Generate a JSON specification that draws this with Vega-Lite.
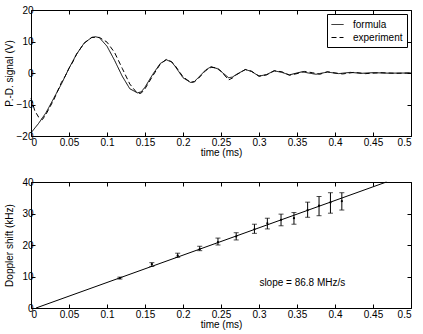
{
  "$schema": "https://vega.github.io/schema/vega-lite/v6.json",
  "padding": {"left": 3, "top": 4, "right": 0, "bottom": 0},
  "spacing": 18,
  "config": {
    "font": "Liberation Sans",
    "view": {"stroke": "black", "strokeWidth": 1},
    "axis": {
      "domain": false, "grid": false, "tickColor": "black", "tickSize": -4, "tickWidth": 1,
      "labelFont": "Liberation Sans", "labelFontSize": 10, "labelColor": "black",
      "titleFont": "Liberation Sans", "titleFontSize": 10, "titleFontWeight": "normal", "titleColor": "black"
    },
    "axisY": {"labelPadding": 2, "titlePadding": 1.5},
    "axisX": {"labelPadding": 5, "titlePadding": 0},
    "legend": {"labelFont": "Liberation Sans", "labelFontSize": 10, "labelColor": "black"}
  },
  "datasets": {
    "sig": [
      {"t":0,"v":-19,"s":"formula"},{"t":0.01,"v":-16,"s":"formula"},{"t":0.02,"v":-12.5,"s":"formula"},{"t":0.03,"v":-8,"s":"formula"},
      {"t":0.04,"v":-3.5,"s":"formula"},{"t":0.05,"v":1.5,"s":"formula"},{"t":0.06,"v":6,"s":"formula"},{"t":0.07,"v":9.5,"s":"formula"},
      {"t":0.08,"v":11.3,"s":"formula"},{"t":0.085,"v":11.5,"s":"formula"},{"t":0.09,"v":11.2,"s":"formula"},{"t":0.1,"v":8.5,"s":"formula"},
      {"t":0.11,"v":4,"s":"formula"},{"t":0.12,"v":-1,"s":"formula"},{"t":0.13,"v":-5,"s":"formula"},{"t":0.14,"v":-6.3,"s":"formula"},
      {"t":0.145,"v":-6,"s":"formula"},{"t":0.15,"v":-4.5,"s":"formula"},{"t":0.16,"v":-0.5,"s":"formula"},{"t":0.17,"v":3,"s":"formula"},
      {"t":0.178,"v":4.2,"s":"formula"},{"t":0.185,"v":3.5,"s":"formula"},{"t":0.19,"v":2,"s":"formula"},{"t":0.2,"v":-1.5,"s":"formula"},
      {"t":0.21,"v":-3,"s":"formula"},{"t":0.215,"v":-2.7,"s":"formula"},{"t":0.22,"v":-1.5,"s":"formula"},{"t":0.23,"v":1,"s":"formula"},
      {"t":0.237,"v":2,"s":"formula"},{"t":0.245,"v":1.4,"s":"formula"},{"t":0.25,"v":0.5,"s":"formula"},{"t":0.26,"v":-1.5,"s":"formula"},
      {"t":0.265,"v":-1.3,"s":"formula"},{"t":0.27,"v":-0.5,"s":"formula"},{"t":0.282,"v":1.1,"s":"formula"},{"t":0.29,"v":0.5,"s":"formula"},
      {"t":0.3,"v":-1,"s":"formula"},{"t":0.31,"v":-0.5,"s":"formula"},{"t":0.32,"v":0.7,"s":"formula"},{"t":0.33,"v":0.2,"s":"formula"},
      {"t":0.34,"v":-0.6,"s":"formula"},{"t":0.35,"v":0,"s":"formula"},{"t":0.357,"v":0.4,"s":"formula"},{"t":0.365,"v":0,"s":"formula"},
      {"t":0.375,"v":-0.4,"s":"formula"},{"t":0.39,"v":0.3,"s":"formula"},{"t":0.405,"v":-0.2,"s":"formula"},{"t":0.42,"v":0.2,"s":"formula"},
      {"t":0.435,"v":-0.1,"s":"formula"},{"t":0.45,"v":0.1,"s":"formula"},{"t":0.47,"v":-0.05,"s":"formula"},{"t":0.5,"v":0,"s":"formula"},
      {"t":0,"v":-8,"s":"experiment"},{"t":0.005,"v":-12,"s":"experiment"},{"t":0.01,"v":-14,"s":"experiment"},{"t":0.015,"v":-14.8,"s":"experiment"},
      {"t":0.02,"v":-13,"s":"experiment"},{"t":0.03,"v":-8.5,"s":"experiment"},{"t":0.04,"v":-3,"s":"experiment"},{"t":0.045,"v":-1,"s":"experiment"},
      {"t":0.05,"v":1.5,"s":"experiment"},{"t":0.055,"v":3.5,"s":"experiment"},{"t":0.06,"v":6,"s":"experiment"},{"t":0.07,"v":9.5,"s":"experiment"},
      {"t":0.08,"v":11.3,"s":"experiment"},{"t":0.09,"v":11.3,"s":"experiment"},{"t":0.1,"v":9.8,"s":"experiment"},{"t":0.11,"v":6.5,"s":"experiment"},
      {"t":0.12,"v":1.5,"s":"experiment"},{"t":0.13,"v":-3.5,"s":"experiment"},{"t":0.14,"v":-6.5,"s":"experiment"},{"t":0.145,"v":-6.4,"s":"experiment"},
      {"t":0.15,"v":-5,"s":"experiment"},{"t":0.16,"v":-1,"s":"experiment"},{"t":0.17,"v":2.8,"s":"experiment"},{"t":0.178,"v":4.3,"s":"experiment"},
      {"t":0.185,"v":3.6,"s":"experiment"},{"t":0.19,"v":2.2,"s":"experiment"},{"t":0.2,"v":-1.2,"s":"experiment"},{"t":0.21,"v":-3,"s":"experiment"},
      {"t":0.215,"v":-2.8,"s":"experiment"},{"t":0.22,"v":-1.8,"s":"experiment"},{"t":0.23,"v":0.8,"s":"experiment"},{"t":0.237,"v":1.8,"s":"experiment"},
      {"t":0.245,"v":1.6,"s":"experiment"},{"t":0.25,"v":0.6,"s":"experiment"},{"t":0.26,"v":-2.2,"s":"experiment"},{"t":0.265,"v":-1.6,"s":"experiment"},
      {"t":0.27,"v":-0.6,"s":"experiment"},{"t":0.282,"v":1.1,"s":"experiment"},{"t":0.29,"v":0.6,"s":"experiment"},{"t":0.3,"v":-1,"s":"experiment"},
      {"t":0.31,"v":-0.6,"s":"experiment"},{"t":0.32,"v":0.7,"s":"experiment"},{"t":0.33,"v":0.4,"s":"experiment"},{"t":0.34,"v":-0.7,"s":"experiment"},
      {"t":0.35,"v":-0.2,"s":"experiment"},{"t":0.36,"v":0.5,"s":"experiment"},{"t":0.37,"v":0.1,"s":"experiment"},{"t":0.38,"v":-0.4,"s":"experiment"},
      {"t":0.39,"v":0.4,"s":"experiment"},{"t":0.4,"v":0,"s":"experiment"},{"t":0.41,"v":-0.3,"s":"experiment"},{"t":0.425,"v":0.2,"s":"experiment"},
      {"t":0.44,"v":-0.2,"s":"experiment"},{"t":0.46,"v":0.1,"s":"experiment"},{"t":0.48,"v":-0.1,"s":"experiment"},{"t":0.5,"v":0,"s":"experiment"}
    ],
    "fit": [{"t":0.0066,"f":0},{"t":0.4676,"f":40}],
    "dop": [
      {"t":0.117,"f":9.5,"lo":9.2,"hi":9.8},
      {"t":0.159,"f":13.9,"lo":13.2,"hi":14.4},
      {"t":0.193,"f":16.6,"lo":16.1,"hi":17.4},
      {"t":0.222,"f":18.7,"lo":18.2,"hi":19.6},
      {"t":0.246,"f":20.9,"lo":20.0,"hi":22.2},
      {"t":0.27,"f":22.7,"lo":21.6,"hi":23.9},
      {"t":0.294,"f":25.0,"lo":23.7,"hi":26.6},
      {"t":0.311,"f":26.9,"lo":25.1,"hi":28.5},
      {"t":0.329,"f":28.0,"lo":26.1,"hi":29.8},
      {"t":0.346,"f":28.5,"lo":26.6,"hi":30.3},
      {"t":0.364,"f":31.1,"lo":28.8,"hi":33.6},
      {"t":0.379,"f":32.5,"lo":29.3,"hi":35.4},
      {"t":0.394,"f":33.5,"lo":30.1,"hi":36.6},
      {"t":0.409,"f":33.9,"lo":31.1,"hi":36.6}
    ]
  },
  "vconcat": [
    {
      "width": 380, "height": 126,
      "data": {"name": "sig"},
      "layer": [
        {
          "mark": {"type": "line", "color": "black", "strokeWidth": 1},
          "encoding": {
            "x": {"field": "t", "type": "quantitative", "scale": {"domain": [0, 0.5], "nice": false},
                  "axis": {"title": "time (ms)", "values": [0,0.05,0.1,0.15,0.2,0.25,0.3,0.35,0.4,0.45,0.5], "format": "~g"}},
            "y": {"field": "v", "type": "quantitative", "scale": {"domain": [-20, 20], "nice": false},
                  "axis": {"title": "P.-D. signal (V)", "values": [-20,-10,0,10,20]}},
            "strokeDash": {"field": "s", "type": "nominal",
                  "scale": {"domain": ["formula", "experiment"], "range": [[1, 0], [5, 3]]},
                  "legend": {"title": null, "orient": "top-right", "offset": 4, "strokeColor": "black", "fillColor": "white",
                             "padding": 4, "symbolType": "stroke", "symbolStrokeColor": "black", "symbolStrokeWidth": 1,
                             "symbolSize": 144, "rowPadding": 1, "labelOffset": 9, "cornerRadius": 0}},
            "detail": {"field": "s"}
          }
        },
        {
          "mark": {"type": "point", "opacity": 0},
          "encoding": {
            "x": {"field": "t", "type": "quantitative", "axis": {"orient": "top", "labels": false, "labelPadding": 0, "title": null, "values": [0,0.05,0.1,0.15,0.2,0.25,0.3,0.35,0.4,0.45,0.5]}},
            "y": {"field": "v", "type": "quantitative", "axis": {"orient": "right", "labels": false, "labelPadding": 0, "title": null, "values": [-20,-10,0,10,20]}}
          }
        }
      ],
      "resolve": {"axis": {"x": "independent", "y": "independent"}}
    },
    {
      "width": 380, "height": 126,
      "layer": [
        {
          "data": {"name": "fit"},
          "mark": {"type": "line", "color": "black", "strokeWidth": 1},
          "encoding": {
            "x": {"field": "t", "type": "quantitative", "scale": {"domain": [0, 0.5], "nice": false},
                  "axis": {"title": "time (ms)", "values": [0,0.05,0.1,0.15,0.2,0.25,0.3,0.35,0.4,0.45,0.5], "format": "~g"}},
            "y": {"field": "f", "type": "quantitative", "scale": {"domain": [0, 40], "nice": false},
                  "axis": {"title": "Doppler shift (kHz)", "titlePadding": 7.5, "values": [0,10,20,30,40]}}
          }
        },
        {
          "data": {"name": "dop"},
          "mark": {"type": "point", "opacity": 0},
          "encoding": {
            "x": {"field": "t", "type": "quantitative", "axis": {"orient": "top", "labels": false, "labelPadding": 0, "title": null, "values": [0,0.05,0.1,0.15,0.2,0.25,0.3,0.35,0.4,0.45,0.5]}},
            "y": {"field": "f", "type": "quantitative", "axis": {"orient": "right", "labels": false, "labelPadding": 0, "title": null, "values": [0,10,20,30,40]}}
          }
        },
        {
          "data": {"name": "dop"},
          "mark": {"type": "errorbar", "ticks": {"size": 5, "color": "black"}, "color": "black"},
          "encoding": {
            "x": {"field": "t", "type": "quantitative", "axis": null},
            "y": {"field": "lo", "type": "quantitative", "axis": null},
            "y2": {"field": "hi"}
          }
        },
        {
          "data": {"name": "dop"},
          "mark": {"type": "point", "filled": true, "color": "black", "size": 5, "opacity": 1},
          "encoding": {
            "x": {"field": "t", "type": "quantitative", "axis": null},
            "y": {"field": "f", "type": "quantitative", "axis": null}
          }
        },
        {
          "data": {"values": [{"label": "slope = 86.8 MHz/s"}]},
          "mark": {"type": "text", "fontSize": 10, "font": "Liberation Sans", "color": "black"},
          "encoding": {
            "x": {"datum": 0.357, "axis": null},
            "y": {"datum": 7.9, "axis": null},
            "text": {"field": "label"}
          }
        }
      ],
      "resolve": {"axis": {"x": "independent", "y": "independent"}}
    }
  ]
}
